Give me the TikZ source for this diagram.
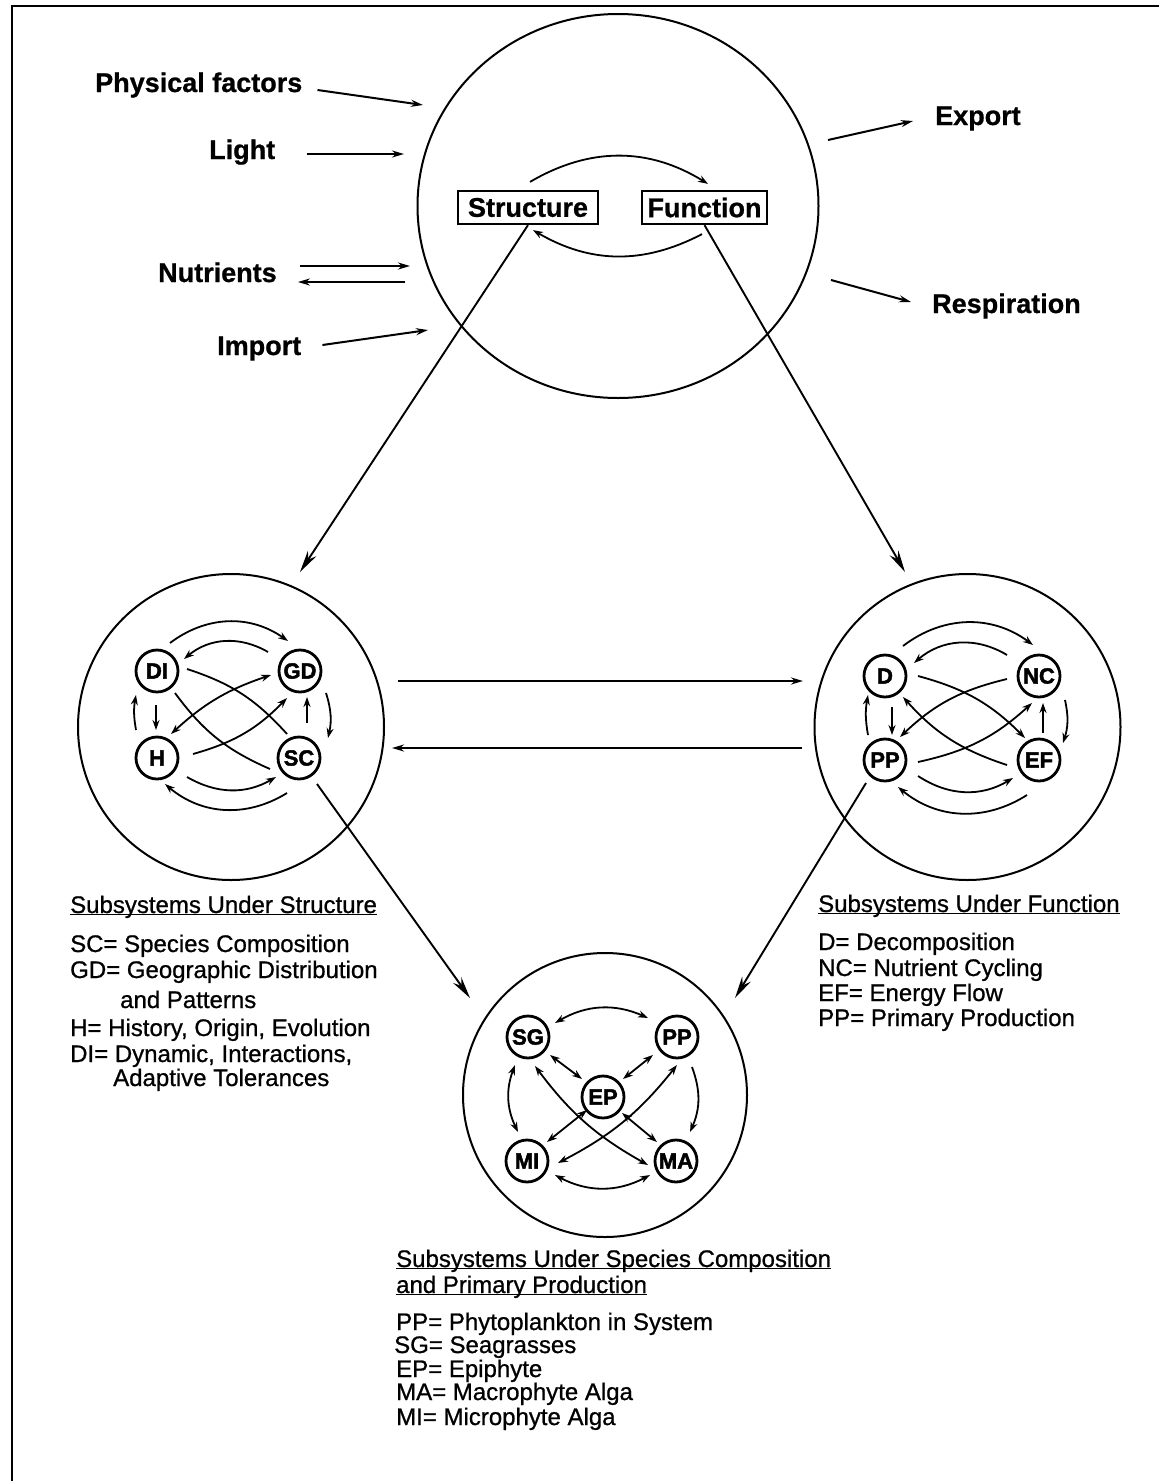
\documentclass[tikz,border=0pt]{standalone}
\usepackage{fontspec}
\setmainfont{Liberation Sans}
\newfontfamily\heavyfont{Liberation Sans}[BoldFeatures={FakeBold=2}]
\newfontfamily\lblfont{Liberation Sans}[BoldFeatures={FakeBold=0.8}]
\newfontfamily\legfont{Liberation Sans}[FakeBold=0.8]
\usetikzlibrary{arrows.meta,calc,shapes.geometric}
\begin{document}
\begin{tikzpicture}[x=1pt,y=-1pt,
  bigc/.style={circle,draw,line width=2pt,minimum size=306pt,inner sep=0pt},
  sub/.style={circle,draw,line width=2.8pt,minimum size=42pt,inner sep=0pt,font=\fontsize{22}{22}\heavyfont\bfseries},
  boxn/.style={draw,line width=2.2pt,minimum height=33pt,inner sep=0pt,font=\fontsize{27}{27}\lblfont\bfseries},
  lbl/.style={inner sep=0pt,anchor=base west,font=\fontsize{27}{27}\lblfont\bfseries},
  leg/.style={inner sep=0pt,anchor=base west,font=\fontsize{24}{24}\legfont},
  sa/.style={line width=1.8pt,-{Stealth[length=10pt,width=7pt]}},
  sab/.style={line width=1.8pt,{Stealth[length=10pt,width=7pt]}-{Stealth[length=10pt,width=7pt]}},
  sl/.style={line width=1.8pt},
  ma/.style={line width=1.9pt,-{Stealth[length=22pt,width=10pt]}},
  ia/.style={line width=2pt,-{Stealth[length=12pt,width=7pt]}},
]
\useasboundingbox (0,0) rectangle (1159,1481);
\fill[white] (0,0) rectangle (1159,1481);
% frame
\draw[line width=2pt] (12,1481) -- (12,6) -- (1159,6);

% main circles
\node[ellipse,draw,line width=2pt,minimum width=401pt,minimum height=384pt,inner sep=0pt] (T) at (618,206) {};
\node[bigc] (L) at (231,727) {};
\node[bigc] (R) at (967.5,727) {};
\node[circle,draw,line width=2pt,minimum size=284pt,inner sep=0pt] (B) at (605,1095) {};

% structure / function boxes
\node[boxn,minimum width=140pt] (Str) at (528,207.5) {Structure};
\node[boxn,minimum width=125pt] (Fun) at (704.5,207.5) {Function};
\draw[sa] ($(Str.north)+(2,-8)$) to[bend left=31] ($(Fun.north)+(3.5,-6)$);
\draw[sa] ($(Fun.south)+(-2.5,9)$) to[bend left=29] ($(Str.south)+(5,5)$);

% input / output labels
\node[lbl] (pf) at (95,92) {Physical factors};
\node[lbl] (li) at (209,159) {Light};
\node[lbl] (nu) at (158,282) {Nutrients};
\node[lbl] (im) at (217,355) {Import};
\node[lbl] (ex) at (935,125) {Export};
\node[lbl] (re) at (932,313) {Respiration};

\coordinate (pfTip) at (423,105);
\coordinate (liTip) at (404,154);
\coordinate (nuTip) at (410,266);
\coordinate (nuOut) at (405,282);
\coordinate (imTip) at (428,330);
\coordinate (exS) at (828,140);
\coordinate (reS) at (831,280);

\draw[ia] ($(pf.base east)+(15,-2)$) -- (pfTip);
\draw[ia] ($(li.base east)+(32,-5)$) -- (liTip);
\draw[ia] ($(nu.base east)+(23,-16)$) -- (nuTip);
\draw[ia] (nuOut) -- ($(nu.base east)+(21,0)$);
\draw[ia] ($(im.base east)+(21,-10)$) -- (imTip);
\draw[ia] (exS) -- ($(ex.base west)+(-22,-4)$);
\draw[ia] (reS) -- ($(re.base west)+(-21,-11)$);

% main connectors
\draw[ma] (Str.south) -- ($(L)+(69,-155)$);
\draw[ma] (Fun.south) -- ($(R)+(-62.5,-155)$);
\draw[ia] ($(L)+(167,-46)$) -- ($(R)+(-164.5,-46)$);
\draw[ia] ($(R)+(-165.5,21)$) -- ($(L)+(161,21)$);

% sub nodes
\node[sub] (DI) at (157,671) {DI};
\node[sub] (GD) at (300,671) {GD};
\node[sub] (H) at (157,758) {H};
\node[sub] (SC) at (299,758) {SC};
\node[sub] (D) at (885,676) {D};
\node[sub] (NC) at (1039,676) {NC};
\node[sub] (PPa) at (885,760) {PP};
\node[sub] (EF) at (1039,760) {EF};
\node[sub] (SG) at (528,1037) {SG};
\node[sub] (PPb) at (677,1037) {PP};
\node[sub] (EP) at (603,1097) {EP};
\node[sub] (MI) at (527,1161) {MI};
\node[sub] (MA) at (676,1161) {MA};

\draw[ma] ($(SC)+(18,26)$) -- ($(B)+(-135,-97)$);
\draw[ma] ($(PPa)+(-19,23)$) -- ($(B)+(130,-97)$);

% left circle arrows
\draw[sa] ($(DI)+(13,-28)$) to[bend left=36] ($(GD)+(-12,-30)$);
\draw[sa] ($(GD)+(-32,-19)$) to[bend right=35] ($(DI)+(27,-12)$);
\draw[sl] ($(DI)+(30,-2)$) to[bend left=15] ($(SC)+(-12,-24)$);
\draw[sl] ($(DI)+(18,22)$) to[bend right=15] ($(SC)+(-29,11)$);
\draw[sab] ($(GD)+(-29,4)$) to[bend right=12] ($(H)+(14,-24)$);
\draw[sa] ($(H)+(36,-4)$) to[bend right=15] ($(GD)+(-13,27)$);
\draw[sa] ($(H)+(-21,-28)$) to[bend left=10] ($(DI)+(-21,24)$);
\draw[sa] ($(DI)+(-1,34)$) -- ($(H)+(-1,-28)$);
\draw[sa] ($(GD)+(26,22)$) to[bend left=15] ($(SC)+(29,-20)$);
\draw[sa] ($(SC)+(8,-35)$) -- ($(GD)+(7,26)$);
\draw[sa] ($(H)+(30,19)$) to[bend right=30] ($(SC)+(-23,19)$);
\draw[sa] ($(SC)+(-12,35)$) to[bend left=36] ($(H)+(8,26)$);

% right circle arrows
\draw[sa] ($(D)+(18,-30)$) to[bend left=37] ($(NC)+(-6,-31)$);
\draw[sa] ($(NC)+(-32,-21)$) to[bend right=36] ($(D)+(29,-13)$);
\draw[sa] ($(D)+(33,0)$) to[bend left=15] ($(EF)+(-14,-22)$);
\draw[sa] ($(NC)+(-32,3)$) to[bend right=15] ($(PPa)+(15,-23)$);
\draw[sa] ($(PPa)+(33,2)$) to[bend right=15] ($(NC)+(-7,27)$);
\draw[sa] ($(EF)+(-32,5)$) to[bend left=15] ($(D)+(18,21)$);
\draw[sa] ($(PPa)+(-17,-25)$) to[bend left=10] ($(D)+(-17,19)$);
\draw[sa] ($(D)+(7,31)$) -- ($(PPa)+(7,-25)$);
\draw[sa] ($(NC)+(26,24)$) to[bend left=15] ($(EF)+(24,-17)$);
\draw[sa] ($(EF)+(4,-27)$) -- ($(NC)+(4,27)$);
\draw[sa] ($(PPa)+(33,16)$) to[bend right=32] ($(EF)+(-26,18)$);
\draw[sa] ($(EF)+(-12,35)$) to[bend left=36] ($(PPa)+(13,27)$);

% bottom circle arrows
\draw[sab] ($(SG)+(27,-14)$) to[bend left=27] ($(PPb)+(-29,-19)$);
\draw[sab] ($(SG)+(22,18)$) -- ($(EP)+(-21,-18)$);
\draw[sab] ($(PPb)+(-24,18)$) -- ($(EP)+(20,-18)$);
\draw[sab] ($(EP)+(-16,13)$) -- ($(MI)+(20,-19)$);
\draw[sab] ($(EP)+(19,16)$) -- ($(MA)+(-19,-19)$);
\draw[sab] ($(SG)+(-13,28)$) to[bend right=23] ($(MI)+(-9,-29)$);
\draw[sa] ($(PPb)+(15,30)$) to[bend left=22] ($(MA)+(14,-29)$);
\draw[sab] ($(MI)+(28,14)$) to[bend right=28] ($(MA)+(-26,14)$);
\draw[sab] ($(SG)+(7,29)$) to[bend right=12] ($(MA)+(-28,4)$);
\draw[sab] ($(PPb)+(0,28)$) to[bend left=12] ($(MI)+(31,2)$);

% legends
\node[leg] (ls0) at (70,913) {\underbar{Subsystems Under Structure}};
\node[leg] (ls1) at (70,952) {SC= Species Composition};
\node[leg] (ls2) at (70,978) {GD= Geographic Distribution};
\node[leg] (ls3) at (120,1008) {and Patterns};
\node[leg] (ls4) at (70,1036) {H= History, Origin, Evolution};
\node[leg] (ls5) at (70,1062) {DI= Dynamic, Interactions,};
\node[leg] (ls6) at (113,1086) {Adaptive Tolerances};

\node[leg] (lf0) at (818,912) {\underbar{Subsystems Under Function}};
\node[leg] (lf1) at (818,950) {D= Decomposition};
\node[leg] (lf2) at (818,976) {NC= Nutrient Cycling};
\node[leg] (lf3) at (818,1001) {EF= Energy Flow};
\node[leg] (lf4) at (818,1026) {PP= Primary Production};

\node[leg] (lb0) at (396,1267) {\underbar{Subsystems Under Species Composition}};
\node[leg] (lb1) at (396,1293) {\underbar{and Primary Production}};
\node[leg] (lb2) at (396,1330) {PP= Phytoplankton in System};
\node[leg] (lb3) at (394,1353) {SG= Seagrasses};
\node[leg] (lb4) at (396,1377) {EP= Epiphyte};
\node[leg] (lb5) at (396,1400) {MA= Macrophyte Alga};
\node[leg] (lb6) at (396,1425) {MI= Microphyte Alga};
\end{tikzpicture}
\end{document}
